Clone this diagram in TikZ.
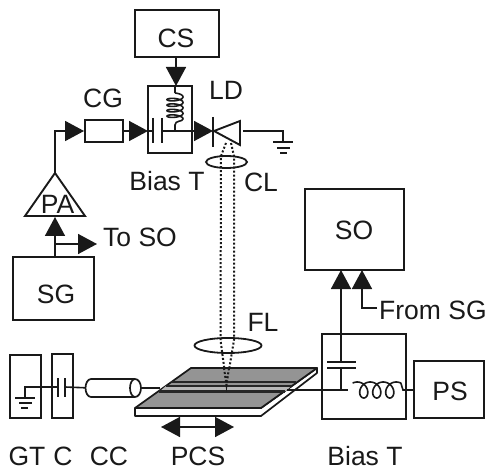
\documentclass[tikz,border=0pt]{standalone}
\usepackage{fontspec}
\setmainfont{Liberation Sans}
\usetikzlibrary{arrows.meta,shapes.geometric}
\tikzset{
  wire/.style={line width=1.6pt,black!90},
  frame/.style={draw=black!90,line width=1.9pt,fill=white,inner sep=0pt},
  lbl/.style={font=\fontsize{26.5}{26.5}\selectfont,inner sep=0pt,text=black!90},
  headed/.style={wire,-{Triangle[length=19pt,width=20pt]}},
  dbl/.style={wire,{Triangle[length=19pt,width=20pt]}-{Triangle[length=19pt,width=20pt]}},
  beam/.style={line width=2pt,black!90,dash pattern=on 2pt off 2pt},
  lens/.style={draw=black!90,line width=1.8pt,ellipse,inner sep=0pt},
}
\begin{document}
\begin{tikzpicture}[x=1pt,y=-1pt]
\useasboundingbox (0,0) rectangle (487,470);
% boxes
\node[frame,minimum width=84,minimum height=47] (CS) at (177,33.5) {};
\node[frame,minimum width=44,minimum height=67] (BT1) at (170,119.5) {};
\node[frame,minimum width=38,minimum height=22] (CG) at (104,131) {};
\node[frame,minimum width=81,minimum height=63] (SG) at (53.5,288.5) {};
\node[frame,minimum width=99,minimum height=81] (SO) at (354.5,229.5) {};
\node[frame,minimum width=84,minimum height=85] (BT2) at (364,376.5) {};
\node[frame,minimum width=70,minimum height=57] (PS) at (449,389.5) {};
\node[frame,minimum width=31,minimum height=63] (GT) at (25.5,386.5) {};
\node[frame,minimum width=21,minimum height=64] (C) at (62.5,386) {};
% amplifier
\coordinate (PAa) at (55,173);
\coordinate (PAl) at (25,216);
\coordinate (PAr) at (85,216);
\coordinate (PAb) at (55,217);
\draw[line width=1.9pt,black!90,line join=miter] (PAa) -- (PAl) -- (PAr) -- cycle;
% top chain wires
\coordinate (bendA) at (55,131);
\coordinate (CSin) at (176,86);
\coordinate (CSout) at (176,57);
\draw[headed] (CSout) -- (CSin);
\draw[headed] (PAa) -- (bendA) -- (CG.west);
\coordinate (capIn) at (148,131);
\draw[headed] (CG.east) -- (capIn);
\coordinate (capA) at (153,131);
\coordinate (capB) at (162,131);
\coordinate (LDin) at (213,131);
\draw[wire] (capIn) -- (capA);
\draw[wire] (capA |- 0,118) -- (capA |- 0,143);
\draw[wire] (capB |- 0,118) -- (capB |- 0,143);
\draw[headed] (capB) -- (LDin);
% vertical coil
\coordinate (coilT) at (175,93);
\coordinate (coilB) at (175,131);
\draw[wire] (CSin -| coilT) -- (coilT)
  plot[domain=0:1530,samples=130,smooth] ({175+8*sin(\x)},{95.5+5.5*\x/360-2.5*cos(\x)})
  .. controls (183,122) and (175,120) .. (175,125) -- (coilB);
% laser diode
\coordinate (LDt) at (213,117);
\coordinate (LDb) at (213,147);
\coordinate (LDa) at (214,131);
\coordinate (LDc) at (240,121);
\coordinate (LDd) at (240,145);
\draw[line width=1.9pt,black!90] (LDt) -- (LDb);
\draw[line width=1.9pt,black!90] (LDa) -- (LDc) -- (LDd) -- cycle;
\coordinate (LDout) at (243,131);
\coordinate (gnd1) at (283,142);
\draw[wire] (LDout) -- (283,131) -- (gnd1);
\draw[wire] (273,142) -- (293,142) (277,148) -- (290,148) (280,153) -- (287,153);
% signal generator
\coordinate (branch) at (55,244);
\coordinate (toSO) at (97,244);
\draw[headed] (SG.north -| PAb) -- (PAb);
\draw[headed] (branch) -- (toSO);
% beam
\draw[beam] (226,143) -- (221,156) -- (220.5,340) -- (226.5,385);
\draw[beam] (231,143) -- (234,156) -- (234,340) -- (226.5,385);
% lenses
\node[lens,minimum width=41,minimum height=12] (CLlens) at (226.5,162) {};
\node[lens,minimum width=67,minimum height=15] (FLlens) at (228,345.5) {};
% switch plate
\coordinate (p1) at (191,368);
\coordinate (p2) at (317,368);
\coordinate (p3) at (261,408);
\coordinate (p4) at (135,408);
\coordinate (p5) at (135,416);
\coordinate (p6) at (261,416);
\coordinate (p7) at (317,373);
\draw[line width=1.7pt,black!90,fill=white,line join=round] (p4) -- (p5) -- (p6) -- (p7) -- (p2) -- (p3) -- cycle;
\draw[line width=1.7pt,black!90,fill=black!42,line join=round] (p1) -- (p2) -- (p3) -- (p4) -- cycle;
\fill[black!28] (166,386) -- (291,386) -- (286,391) -- (160,391) -- cycle;
\draw[line width=1.6pt,black!85] (171,382) -- (296,382);
\draw[line width=1.3pt,black!85] (166,386) -- (291,386);
\draw[line width=2.4pt,black!85] (159,391.5) -- (285,391.5);
% lower beam tail over the plate
\draw[beam] (224,368) -- (226.5,385) -- (229,368);
% left chain
\coordinate (gwT) at (25,387);
\coordinate (gw1) at (25,398);
\draw[wire] (gw1) -- (gwT) -- (58,387);
\draw[wire] (15,398) -- (35,398) (19,403) -- (32,403) (21,408) -- (28,408);
\draw[wire] (58,378) -- (58,397) (65,378) -- (65,397);
\coordinate (CCl) at (91,388);
\coordinate (CCr) at (135,388);
\draw[wire] (65,387) -- (CCl);
\draw[line width=1.7pt,black!90,fill=white] (91,379) -- (135,379) arc[start angle=90,end angle=-90,x radius=6,y radius=-9] -- (91,397) arc[start angle=-90,end angle=-270,x radius=5.5,y radius=-9] -- cycle;
\draw[line width=1.7pt,black!90] (135,379) arc[start angle=90,end angle=270,x radius=5,y radius=-9];
\coordinate (plateL) at (160,388);
\coordinate (plateR) at (287,390);
\coordinate (tee) at (341,390);
\draw[wire] (141,388) -- (plateL);
\draw[wire] (plateR) -- (BT2.west |- plateR) -- (tee) -- (348,390);
% horizontal coil
\draw[wire] (348,390)
  plot[domain=60:1200,samples=130,smooth] ({354+13*\x/360-7*cos(\x)},{390-8*sin(\x)})
  -- (403,390) -- (PS.west |- 0,390);
% Bias T capacitor and output
\draw[wire] (327,362) -- (356,362) (327,368) -- (356,368);
\draw[wire] (tee) -- (341,368);
\coordinate (SOin1) at (341,270);
\coordinate (SOin2) at (362,270);
\draw[headed] (341,362) -- (SOin1);
\coordinate (fromSG) at (377,308);
\draw[headed] (fromSG) -- (362,308) -- (SOin2);
% double arrow
\coordinate (mvL) at (161,427);
\coordinate (mvR) at (234,427);
\draw[dbl] (mvL) -- (mvR);
% labels
\node[lbl] (tCS) at (176,38) {CS};
\node[lbl] (tCG) at (103,98) {CG};
\node[lbl] (tLD) at (226,90) {LD};
\node[lbl] (tBT1) at (167,181) {Bias T};
\node[lbl] (tCL) at (261,182) {CL};
\node[lbl] (tPA) at (57.5,204) {PA};
\node[lbl,anchor=west] (tToSO) at (103,237) {To SO};
\node[lbl] (tSG) at (56,294) {SG};
\node[lbl] (tSO) at (354,230) {SO};
\node[lbl] (tFL) at (263,322) {FL};
\node[lbl,anchor=west] (tFrom) at (379,310) {From SG};
\node[lbl] (tPS) at (450,391) {PS};
\node[lbl] (tGT) at (27,456) {GT};
\node[lbl] (tC) at (63,456) {C};
\node[lbl] (tCC) at (109,456) {CC};
\node[lbl] (tPCS) at (198,456) {PCS};
\node[lbl] (tBT2) at (365,456) {Bias T};
\end{tikzpicture}
\end{document}
